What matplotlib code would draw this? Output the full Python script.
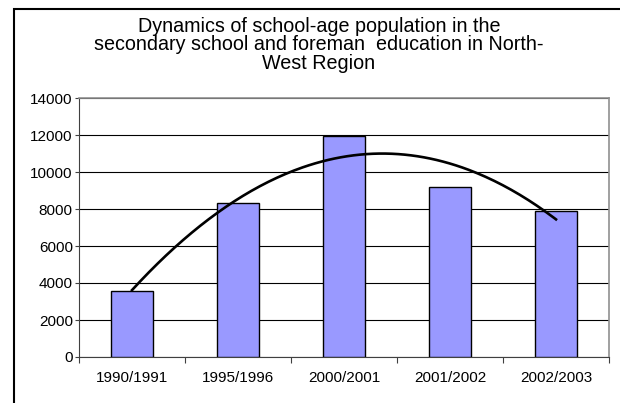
import numpy as np
import matplotlib
matplotlib.use("Agg")
import matplotlib.pyplot as plt
from matplotlib.patches import Rectangle
from matplotlib.ticker import FixedLocator

categories = ["1990/1991", "1995/1996", "2000/2001", "2001/2002", "2002/2003"]
values = [3550, 8300, 11950, 9200, 7880]
title_lines = ["Dynamics of school-age population in the",
               "secondary school and foreman  education in North-",
               "West Region"]

plt.rcParams['font.family'] = ['Liberation Sans', 'DejaVu Sans']

W, H = 620, 403
fig = plt.figure(figsize=(W / 100, H / 100), dpi=100)

# outer chart frame (cut off at right and bottom)
fig.patches.append(Rectangle((13.5 / W, -0.1), 1.2, (H - 8.5) / H + 0.1,
                             transform=fig.transFigure, fill=False,
                             edgecolor='black', linewidth=1.5))

left, right, top, bottom = 79, 609, 98, 357
ax = fig.add_axes([left / W, (H - bottom) / H, (right - left) / W, (bottom - top) / H])

x = np.arange(len(categories))
ax.bar(x, values, width=0.4, color='#9999FF', edgecolor='black', linewidth=1.0, zorder=3)

coef = np.polyfit(x, values, 2)
xs = np.linspace(x[0], x[-1], 200)
ax.plot(xs, np.polyval(coef, xs), color='black', linewidth=1.9, zorder=4)

ax.set_xlim(-0.5, len(categories) - 0.5)
ax.set_ylim(0, 14000)
ax.set_yticks(np.arange(0, 14001, 2000))
ax.yaxis.grid(True, color='black', linewidth=0.8, zorder=0)
ax.set_axisbelow(True)

ax.set_xticks(x)
ax.set_xticklabels(categories, fontsize=11)
ax.xaxis.set_minor_locator(FixedLocator(np.arange(-0.5, len(categories), 1.0)))
ax.tick_params(axis='x', which='major', length=0, pad=10)
ax.tick_params(axis='x', which='minor', length=4, width=0.8, direction='out', color='#404040')
ax.tick_params(axis='y', length=3, width=0.8, direction='out', pad=1.5, labelsize=11, color='#404040')

for side in ['top', 'right']:
    ax.spines[side].set_color('#909090')
    ax.spines[side].set_linewidth(1.2)
for side in ['left', 'bottom']:
    ax.spines[side].set_color('#404040')
    ax.spines[side].set_linewidth(0.8)

for i, line in enumerate(title_lines):
    fig.text(319 / W, 1 - (32 + 18.5 * i) / H, line, ha='center', va='baseline', fontsize=14.2)

fig.savefig("out.png", dpi=100)
